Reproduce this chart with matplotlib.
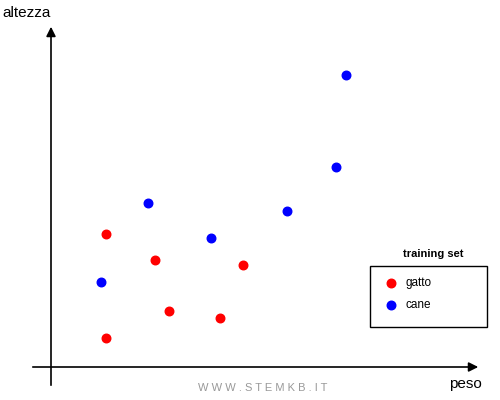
import matplotlib
matplotlib.use("Agg")
import matplotlib.pyplot as plt
from matplotlib.patches import Rectangle

# data: (peso, altezza) relative to origin of the axes
gatto_peso = [55, 104, 192, 118, 169, 55]
gatto_altezza = [133, 107, 102, 56, 49, 29]
cane_peso = [295, 285, 97, 236, 160, 50]
cane_altezza = [292, 200, 164, 156, 129, 85]

fig = plt.figure(figsize=(5, 4), dpi=100)
ax = fig.add_axes([0, 0, 1, 1])
ox, oy = 51, 33  # origin in pixel (from bottom)
ax.set_xlim(-ox, 500 - ox)
ax.set_ylim(-oy, 400 - oy)
ax.axis("off")

# axes arrows
ax.annotate("", xy=(430, 0), xytext=(-21, 0),
            arrowprops=dict(arrowstyle="-|>", color="black", lw=1.2, mutation_scale=14))
ax.annotate("", xy=(0, 343), xytext=(0, -21),
            arrowprops=dict(arrowstyle="-|>", color="black", lw=1.2, mutation_scale=14))

ax.scatter(gatto_peso, gatto_altezza, s=38, color="#ff0000", zorder=3)
ax.scatter(cane_peso, cane_altezza, s=38, color="#0000ff", zorder=3)

ax.text(-49, 387 - oy, "altezza", fontsize=11, ha="left", va="center", family="Liberation Sans")
ax.text(449 - ox, 16 - oy, "peso", fontsize=11, ha="left", va="center", family="Liberation Sans")
ax.text(263 - ox, 12 - oy, "W W W . S T E M K B . I T", fontsize=8, ha="center", va="center",
        color="#999999", family="Liberation Sans")

# legend
ax.add_patch(Rectangle((370 - ox, 73 - oy), 117, 61, fill=False, ec="black", lw=1))
ax.text(433 - ox, 146 - oy, "training set", fontsize=8, weight="bold", ha="center",
        va="center", family="Liberation Sans")
ax.scatter([391 - ox], [117 - oy], s=38, color="#ff0000")
ax.text(405 - ox, 117 - oy, "gatto", fontsize=8.5, va="center", family="Liberation Sans")
ax.scatter([391 - ox], [95 - oy], s=38, color="#0000ff")
ax.text(405 - ox, 95 - oy, "cane", fontsize=8.5, va="center", family="Liberation Sans")

fig.savefig("out.png", dpi=100)
